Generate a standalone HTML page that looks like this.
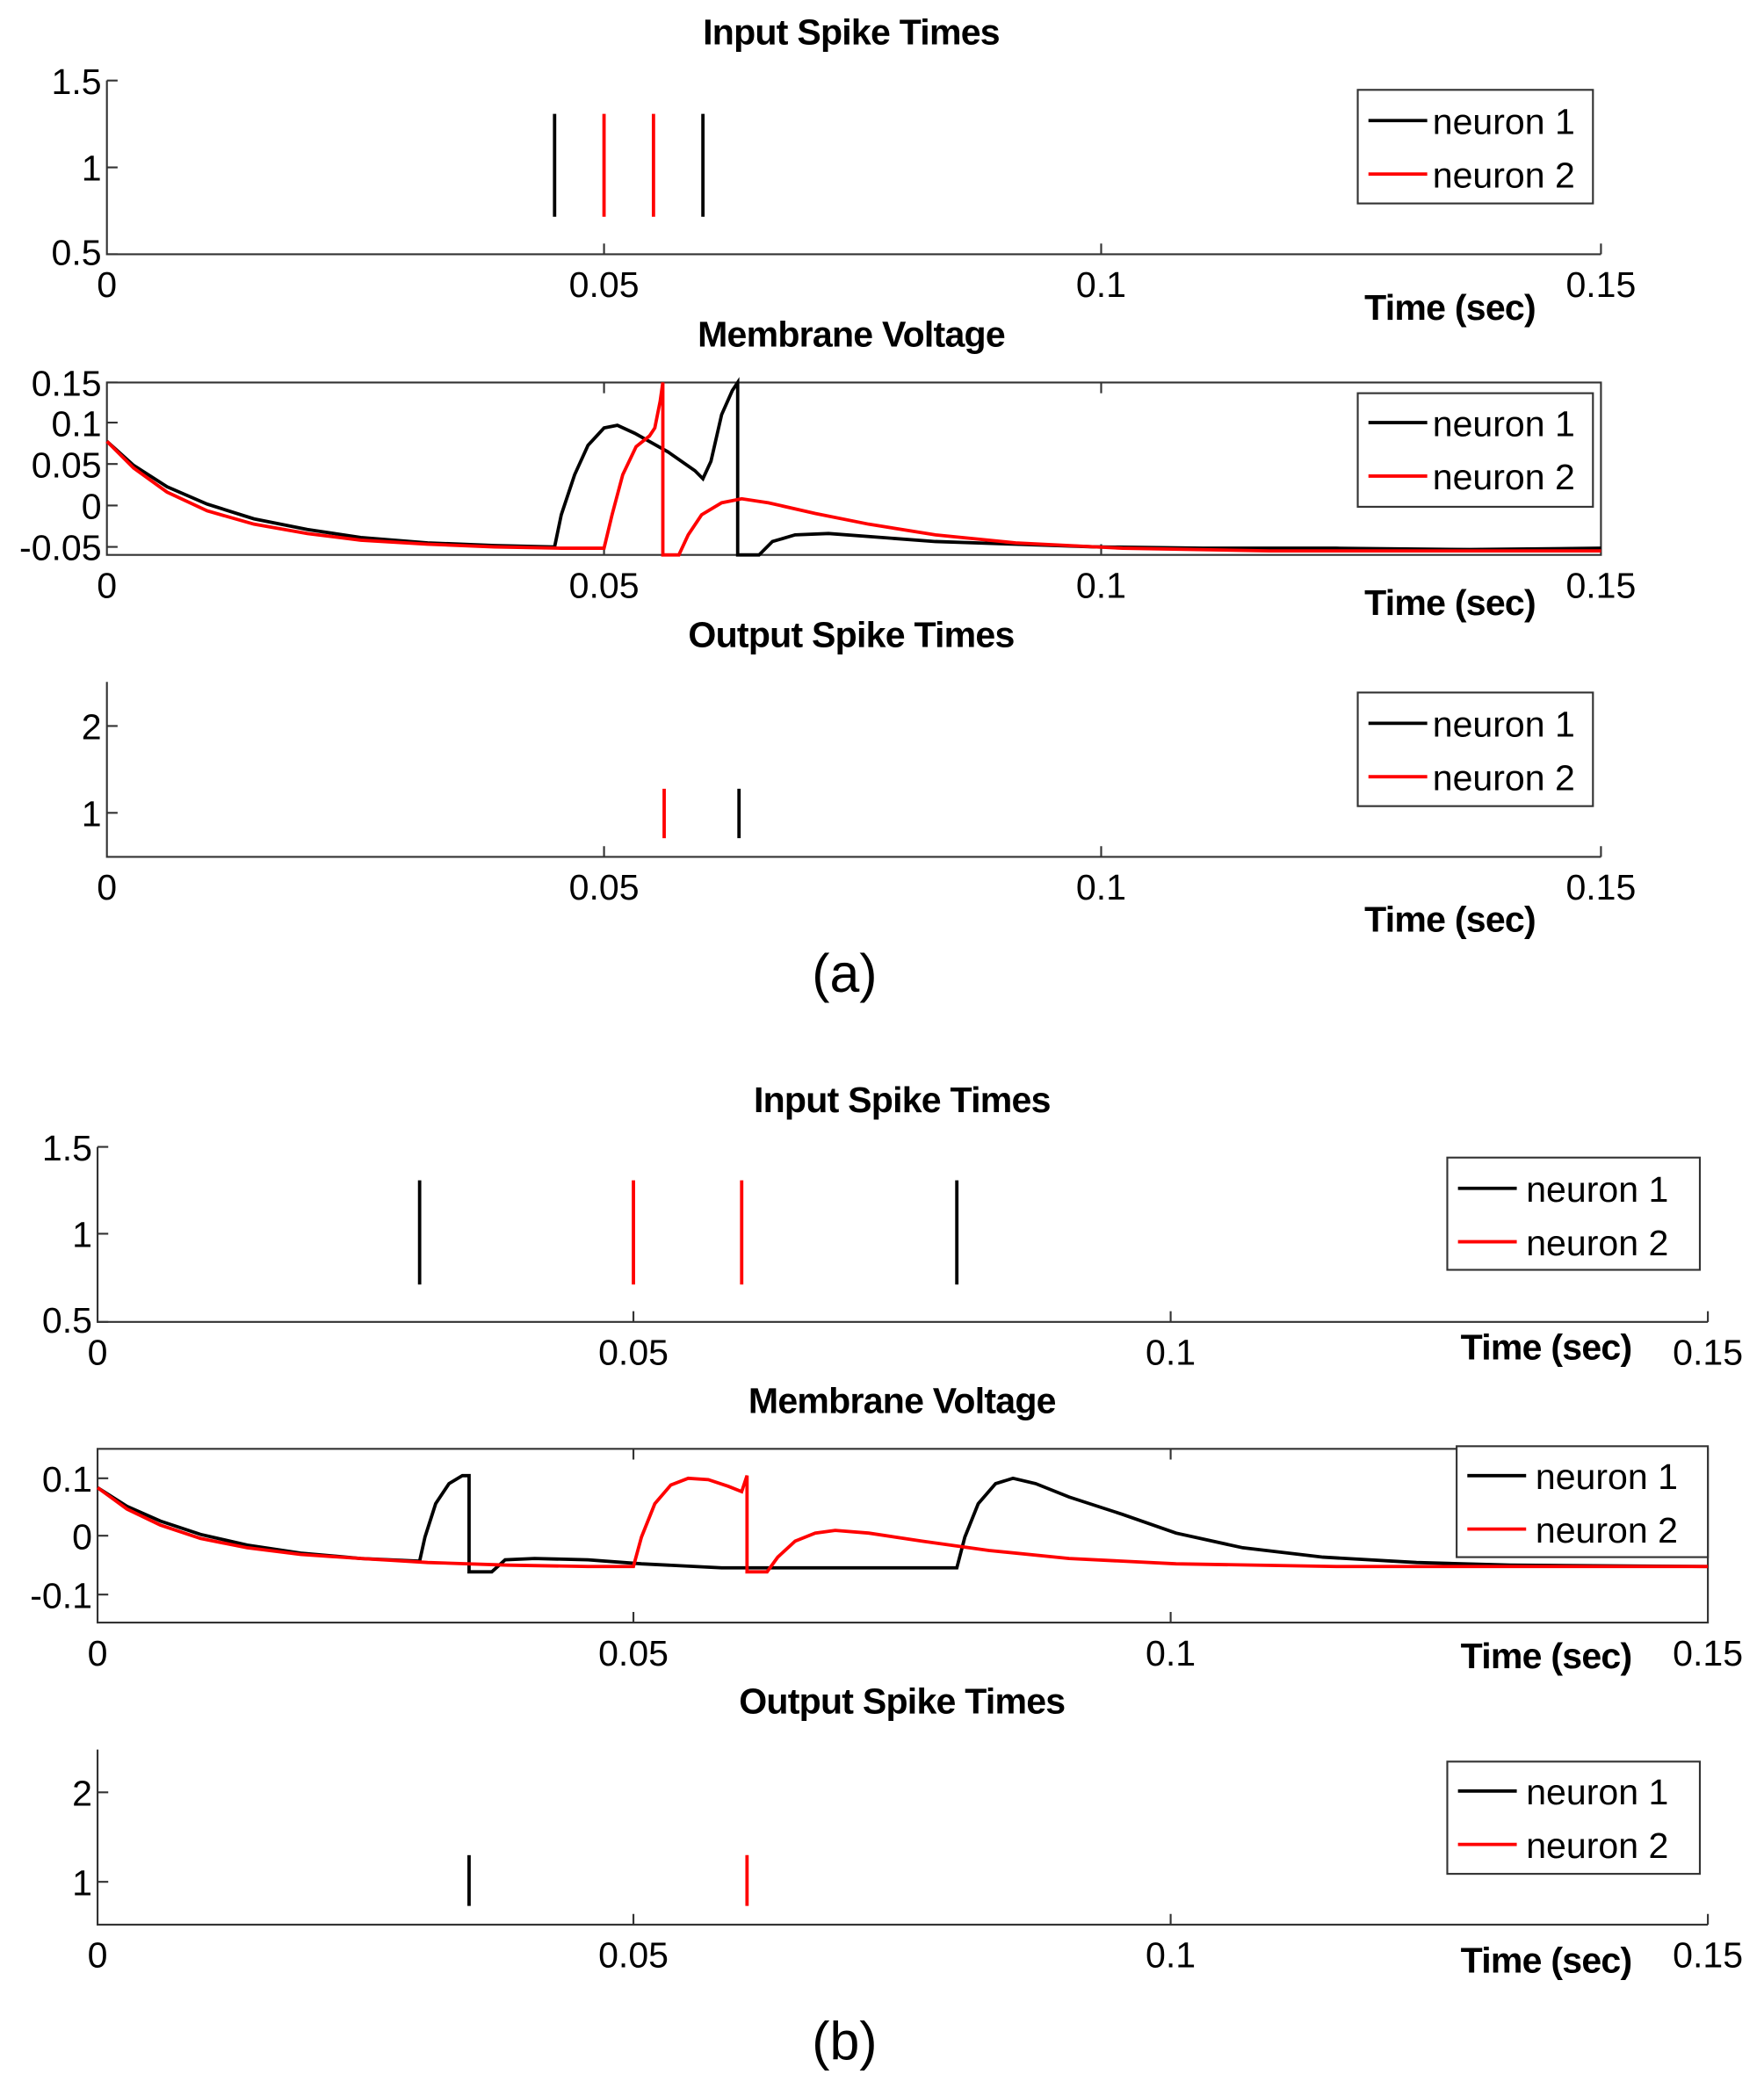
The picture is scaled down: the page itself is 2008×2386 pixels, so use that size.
<!DOCTYPE html>
<html><head><meta charset="utf-8"><style>
html,body{margin:0;padding:0;background:#fff;}
svg{display:block}
text{font-family:"Liberation Sans",Arial,sans-serif;fill:#000}
.t{font-size:27px;font-weight:bold;text-anchor:middle;letter-spacing:-0.5px}
.k{font-size:27px;text-anchor:middle}
.y{font-size:27px;text-anchor:end}
.l{font-size:27px}
.ax{stroke:#333;stroke-width:1.4;fill:none}
</style></head><body>
<svg width="2008" height="2386" viewBox="0 0 1320 1568" xmlns="http://www.w3.org/2000/svg">
<rect width="1320" height="1568" fill="#fff"/>

<!-- ===== (a) panel 1 ===== -->
<text class="t" x="637" y="33">Input Spike Times</text>
<path class="ax" d="M80 60V190H1198"/>
<path class="ax" d="M80 60h8M80 125h8M80 190h8M452 190v-8M824 190v-8M1198 190v-8"/>
<text class="y" x="76" y="70">1.5</text><text class="y" x="76" y="135">1</text><text class="y" x="76" y="198">0.5</text>
<text class="k" x="80" y="222">0</text><text class="k" x="452" y="222">0.05</text><text class="k" x="824" y="222">0.1</text><text class="k" x="1198" y="222">0.15</text>
<text class="t" x="1085" y="239">Time (sec)</text>
<g stroke-width="2.5"><path d="M415 85V162M526 85V162" stroke="#000"/><path d="M452 85V162M489 85V162" stroke="#f00"/></g>
<rect x="1016" y="67" width="176" height="85" fill="#fff" stroke="#333" stroke-width="1.4"/>
<path d="M1024 90h44" stroke="#000" stroke-width="2.5"/><path d="M1024 130h44" stroke="#f00" stroke-width="2.5"/>
<text class="l" x="1072" y="100">neuron 1</text><text class="l" x="1072" y="140">neuron 2</text>

<!-- ===== (a) panel 2 ===== -->
<text class="t" x="637" y="259">Membrane Voltage</text>
<path class="ax" d="M80 286H1198V415H80Z"/>
<path class="ax" d="M80 286h8M80 316h8M80 347h8M80 378h8M80 409h8M452 415v-8M824 415v-8M452 286v8M824 286v8"/>
<text class="y" x="76" y="296">0.15</text><text class="y" x="76" y="326">0.1</text><text class="y" x="76" y="357">0.05</text><text class="y" x="76" y="388">0</text><text class="y" x="76" y="419">-0.05</text>
<text class="k" x="80" y="447">0</text><text class="k" x="452" y="447">0.05</text><text class="k" x="824" y="447">0.1</text><text class="k" x="1198" y="447">0.15</text>
<text class="t" x="1085" y="460">Time (sec)</text>
<path fill="none" stroke="#000" stroke-width="2.5" d="M80 330L100 348L125 364L155 377L190 388L230 396L270 402L320 406L370 408L412 409L415 409L420 385L430 355L440 333L452 320L462 318L475 324L500 338L520 352L526 358L532 345L540 310L548 292L552 286L552 415L568 415L578 405L595 400L620 399L660 402L700 405L760 407L820 409L900 410L1000 410L1100 411L1198 410"/>
<path fill="none" stroke="#f00" stroke-width="2.5" d="M80 330L100 350L125 368L155 382L190 392L230 399L270 404L320 407L370 409L420 410L452 410L458 385L466 355L476 334L486 326L490 320L494 300L496 286L496 415L508 415L515 400L525 385L540 376L555 373L575 376L610 384L650 392L700 400L760 406L840 410L950 412L1198 412"/>
<rect x="1016" y="294" width="176" height="85" fill="#fff" stroke="#333" stroke-width="1.4"/>
<path d="M1024 316h44" stroke="#000" stroke-width="2.5"/><path d="M1024 356h44" stroke="#f00" stroke-width="2.5"/>
<text class="l" x="1072" y="326">neuron 1</text><text class="l" x="1072" y="366">neuron 2</text>

<!-- ===== (a) panel 3 ===== -->
<text class="t" x="637" y="484">Output Spike Times</text>
<path class="ax" d="M80 510V641H1198"/>
<path class="ax" d="M80 543h8M80 608h8M452 641v-8M824 641v-8M1198 641v-8"/>
<text class="y" x="76" y="553">2</text><text class="y" x="76" y="618">1</text>
<text class="k" x="80" y="673">0</text><text class="k" x="452" y="673">0.05</text><text class="k" x="824" y="673">0.1</text><text class="k" x="1198" y="673">0.15</text>
<text class="t" x="1085" y="697">Time (sec)</text>
<path d="M497 590V627" stroke="#f00" stroke-width="2.5"/><path d="M553 590V627" stroke="#000" stroke-width="2.5"/>
<rect x="1016" y="518" width="176" height="85" fill="#fff" stroke="#333" stroke-width="1.4"/>
<path d="M1024 541h44" stroke="#000" stroke-width="2.5"/><path d="M1024 581h44" stroke="#f00" stroke-width="2.5"/>
<text class="l" x="1072" y="551">neuron 1</text><text class="l" x="1072" y="591">neuron 2</text>
<text x="632" y="742" style="font-size:40px;text-anchor:middle">(a)</text>

<!-- ===== (b) panel 1 ===== -->
<text class="t" x="675" y="832">Input Spike Times</text>
<path class="ax" d="M73 858V989H1278"/>
<path class="ax" d="M73 858h8M73 923h8M73 989h8M474 989v-8M876 989v-8M1278 989v-8"/>
<text class="y" x="69" y="868">1.5</text><text class="y" x="69" y="933">1</text><text class="y" x="69" y="997">0.5</text>
<text class="k" x="73" y="1021">0</text><text class="k" x="474" y="1021">0.05</text><text class="k" x="876" y="1021">0.1</text><text class="k" x="1278" y="1021">0.15</text>
<text class="t" x="1157" y="1017">Time (sec)</text>
<g stroke-width="2.5"><path d="M314 883V961M716 883V961" stroke="#000"/><path d="M474 883V961M555 883V961" stroke="#f00"/></g>
<rect x="1083" y="866" width="189" height="84" fill="#fff" stroke="#333" stroke-width="1.4"/>
<path d="M1091 889h44" stroke="#000" stroke-width="2.5"/><path d="M1091 929h44" stroke="#f00" stroke-width="2.5"/>
<text class="l" x="1142" y="899">neuron 1</text><text class="l" x="1142" y="939">neuron 2</text>

<!-- ===== (b) panel 2 ===== -->
<text class="t" x="675" y="1057">Membrane Voltage</text>
<path class="ax" d="M73 1084H1278V1214H73Z"/>
<path class="ax" d="M73 1106h8M73 1149h8M73 1193h8M474 1214v-8M876 1214v-8M474 1084v8M876 1084v8"/>
<text class="y" x="69" y="1116">0.1</text><text class="y" x="69" y="1159">0</text><text class="y" x="69" y="1203">-0.1</text>
<text class="k" x="73" y="1246">0</text><text class="k" x="474" y="1246">0.05</text><text class="k" x="876" y="1246">0.1</text><text class="k" x="1278" y="1246">0.15</text>
<text class="t" x="1157" y="1248">Time (sec)</text>
<path fill="none" stroke="#000" stroke-width="2.5" d="M73 1113L95 1127L120 1138L150 1148L185 1156L225 1162L270 1166L314 1168L318 1150L326 1125L336 1110L346 1104L351 1104L351 1176L368 1176L378 1167L400 1166L440 1167L480 1170L540 1173L600 1173L660 1173L716 1173L722 1150L732 1125L745 1110L758 1106L775 1110L800 1120L840 1133L880 1147L930 1158L990 1165L1060 1169L1130 1171L1278 1172"/>
<path fill="none" stroke="#f00" stroke-width="2.5" d="M73 1113L95 1129L120 1141L150 1151L185 1158L225 1163L270 1166L320 1169L380 1171L440 1172L474 1172L480 1150L490 1125L502 1111L515 1106L530 1107L545 1112L555 1116L559 1104L559 1176L574 1176L582 1165L595 1153L610 1147L625 1145L650 1147L690 1153L740 1160L800 1166L880 1170L1000 1172L1278 1172"/>
<rect x="1090" y="1082" width="188" height="83" fill="#fff" stroke="#333" stroke-width="1.4"/>
<path d="M1098 1104h44" stroke="#000" stroke-width="2.5"/><path d="M1098 1144h44" stroke="#f00" stroke-width="2.5"/>
<text class="l" x="1149" y="1114">neuron 1</text><text class="l" x="1149" y="1154">neuron 2</text>

<!-- ===== (b) panel 3 ===== -->
<text class="t" x="675" y="1282">Output Spike Times</text>
<path class="ax" d="M73 1309V1440H1278"/>
<path class="ax" d="M73 1341h8M73 1408h8M474 1440v-8M876 1440v-8M1278 1440v-8"/>
<text class="y" x="69" y="1351">2</text><text class="y" x="69" y="1418">1</text>
<text class="k" x="73" y="1472">0</text><text class="k" x="474" y="1472">0.05</text><text class="k" x="876" y="1472">0.1</text><text class="k" x="1278" y="1472">0.15</text>
<text class="t" x="1157" y="1476">Time (sec)</text>
<path d="M351 1388V1426" stroke="#000" stroke-width="2.5"/><path d="M559 1388V1426" stroke="#f00" stroke-width="2.5"/>
<rect x="1083" y="1318" width="189" height="84" fill="#fff" stroke="#333" stroke-width="1.4"/>
<path d="M1091 1340h44" stroke="#000" stroke-width="2.5"/><path d="M1091 1380h44" stroke="#f00" stroke-width="2.5"/>
<text class="l" x="1142" y="1350">neuron 1</text><text class="l" x="1142" y="1390">neuron 2</text>
<text x="632" y="1541" style="font-size:40px;text-anchor:middle">(b)</text>
</svg>
</body></html>
